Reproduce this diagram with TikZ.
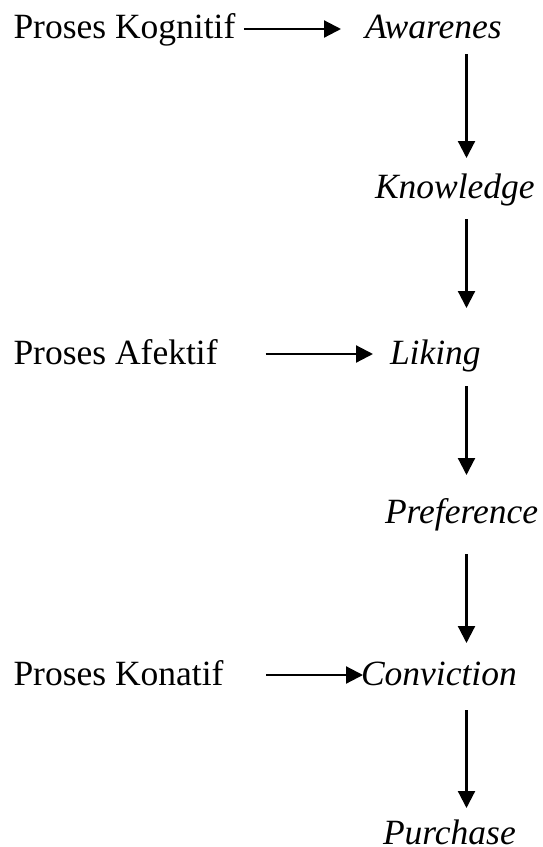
\documentclass[tikz,border=0pt]{standalone}
\usepackage{fontspec}
\setmainfont{Liberation Serif}
\usetikzlibrary{calc,arrows.meta}
\begin{document}
\begin{tikzpicture}[x=1pt,y=-1pt,
  lbl/.style={anchor=base west,inner sep=0pt,outer sep=0pt,font=\fontsize{35.5}{40}\selectfont},
  ilbl/.style={lbl,font=\fontsize{35.5}{40}\selectfont\itshape},
  arr/.style={line width=2.2pt,-{Triangle[length=17pt,width=17pt]}}]
\useasboundingbox (0,0) rectangle (543,847);
\coordinate (col) at (466.5,0);
% left labels
\node[lbl] (k1) at (13.5,38) {Proses Kognitif};
\node[lbl] (k2) at (13.5,364) {Proses Afektif};
\node[lbl] (k3) at (13.5,685) {Proses Konatif};
% right chain
\node[ilbl] (aw) at (365,38) {Awarenes};
\node[ilbl] (kn) at (375,198) {Knowledge};
\node[ilbl] (li) at (390,364) {Liking};
\node[ilbl] (pr) at (385,523) {Preference};
\node[ilbl] (co) at (361,685) {Conviction};
\node[ilbl] (pu) at (383,844) {Purchase};
% horizontal arrows
\draw[arr] ($(k1.base east)+(8.5,-9)$) -- ($(aw.base west)+(-24,-9)$);
\draw[arr] ($(k2.base east)+(48,-10)$) -- ($(li.base west)+(-17,-10)$);
\draw[arr] ($(k3.base east)+(42.5,-10)$) -- ($(co.base west)+(2,-10)$);
% vertical arrows
\draw[arr] ($(aw.base -| col)+(0,16)$) -- ($(kn.base -| col)+(0,-40)$);
\draw[arr] ($(kn.base -| col)+(0,21)$) -- ($(li.base -| col)+(0,-56)$);
\draw[arr] ($(li.base -| col)+(0,22)$) -- ($(pr.base -| col)+(0,-48)$);
\draw[arr] ($(pr.base -| col)+(0,31)$) -- ($(co.base -| col)+(0,-42)$);
\draw[arr] ($(co.base -| col)+(0,25)$) -- ($(pu.base -| col)+(0,-36)$);
\end{tikzpicture}
\end{document}
